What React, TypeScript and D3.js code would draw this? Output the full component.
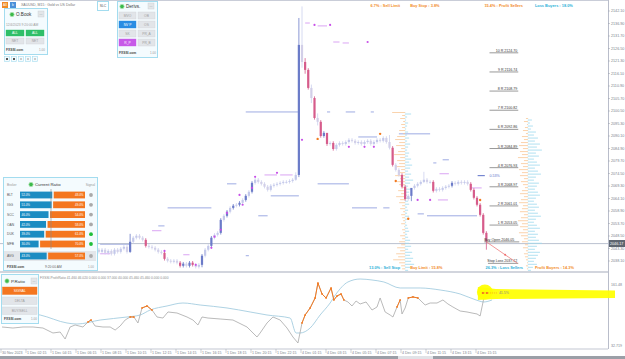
import React from "react";
import * as d3 from "d3";

const W = 625;
const H = 359;
const AXIS_X = 608;
const FONT = "'Liberation Sans', Arial, sans-serif";

// ---- price scale / axes
const priceTicks = [2142.1, 2136.9, 2131.7, 2126.5, 2121.3, 2116.1, 2110.9, 2105.7, 2100.5, 2095.3, 2090.1, 2084.9, 2079.7, 2074.5, 2069.3, 2064.1, 2058.9, 2053.7, 2048.5, 2043.3, 2038.1];
const timeLabels = ["30 Nov 2023", "1 Dec 02:15", "1 Dec 04:15", "1 Dec 06:15", "1 Dec 08:15", "1 Dec 10:15", "1 Dec 12:15", "1 Dec 14:15", "1 Dec 16:15", "1 Dec 18:15", "1 Dec 20:15", "1 Dec 22:15", "4 Dec 01:15", "4 Dec 03:15", "4 Dec 05:15", "4 Dec 07:15", "4 Dec 09:15", "4 Dec 11:15", "4 Dec 13:15", "4 Dec 15:15"];
const CURRENT_PRICE = 2046.17;

// ---- candles (M15), first visible bar index 30
const FIRST_BAR = 30;
const FIRST_OPEN = 2043.0;
const closes = [
  2042.8, 2041.9, 2042.8, 2041.5, 2042.3, 2041.1, 2042.8, 2041.9, 2043.2, 2044.0,
  2041.9, 2046.1, 2047.8, 2048.6, 2047.8, 2046.9, 2044.4, 2044.0, 2043.6, 2042.8,
  2041.9, 2041.5, 2039.0, 2038.2, 2037.8, 2038.2, 2037.4, 2036.1, 2037.0, 2036.1,
  2037.4, 2036.5, 2035.7, 2036.5, 2040.3, 2042.8, 2044.4, 2047.8, 2049.0, 2049.8,
  2055.2, 2056.9, 2058.6, 2060.2, 2061.1, 2061.5, 2062.3, 2063.5, 2065.2, 2066.9,
  2070.6, 2071.9, 2071.0, 2070.2, 2069.0, 2067.7, 2069.4, 2069.8, 2070.2, 2070.6,
  2071.0, 2071.0, 2071.4, 2071.9, 2073.9, 2128.0, 2120.9, 2117.6, 2110.1, 2105.9,
  2097.6, 2096.0, 2090.1, 2091.4, 2086.8, 2087.2, 2084.7, 2086.4, 2087.2, 2086.8,
  2087.6, 2088.5, 2088.1, 2087.2, 2087.6, 2086.8, 2087.6, 2088.1, 2086.8, 2087.6,
  2088.5, 2088.1, 2089.3, 2087.6, 2085.2, 2078.1, 2076.0, 2073.9, 2069.0, 2063.9,
  2065.2, 2068.5, 2069.4, 2070.2, 2071.0, 2071.9, 2071.0, 2071.0, 2067.3, 2068.1,
  2067.7, 2068.5, 2069.0, 2069.4, 2070.6, 2070.2, 2071.0, 2070.6, 2071.0, 2070.2,
  2067.7, 2064.4, 2061.5, 2057.3, 2049.8, 2046.1,
];
const strongBars = [41, 46, 52, 57, 58, 60, 61, 64, 67, 70, 72, 74, 76, 78, 80, 95, 97, 98, 100, 102, 103, 104, 106, 125, 128, 129, 131, 138, 144, 150, 151, 152, 153, 154, 155];
// [bar, high, low]
const wicks: [number, number, number][] = [
  [41, 2049.4, 2041.5], [64, 2041.0, 2035.5], [94, 2075.0, 2071.5], [95, 2139.2, 2073.0],
  [96, 2144.0, 2118.5], [97, 2122.5, 2116.0], [99, 2111.5, 2103.8], [101, 2099.5, 2094.5],
  [104, 2091.0, 2086.0], [124, 2090.5, 2084.5], [131, 2066.0, 2063.0], [135, 2075.2, 2070.5],
  [155, 2050.5, 2042.8],
];

// ---- order markers: [bar, price]
const purpleDots: [number, number][] = [[96, 2088.5], [100, 2136.3], [105, 2136.3], [117, 2129.2], [81, 2073.1], [80, 2068.5], [77, 2061.5], [76, 2065.6], [72, 2058.1], [70, 2051.1], [68, 2048.2], [67, 2043.6], [52, 2042.3], [62, 2036.5], [133, 2063.5], [137, 2063.5], [111, 2085.6], [116, 2085.6], [119, 2085.6], [88, 2074.8]];
const orangeDots: [number, number][] = [[101, 2088.9], [121, 2091.0], [126, 2071.4], [130, 2055.7], [153, 2063.5]];
// [barFrom, barTo, price]
const purpleLines: [number, number, number][] = [[97, 98.5, 2137.1], [101, 104, 2135.9], [106, 108, 2129.2], [109, 111, 2128.8], [84, 88, 2073.9], [89, 93, 2073.9], [48, 51, 2050.7], [58, 60, 2040.7], [139.5, 142.7, 2063.5], [140, 143, 2074.4], [150, 153.5, 2068.5], [31.4, 34.6, 2041.1]];
const blueLines: [number, number, number][] = [[78, 94.7, 2100.1], [53, 67, 2060.2], [86, 95, 2065.2], [72, 75, 2070.2], [101, 111, 2070.2], [112, 120, 2060.2], [122, 124, 2060.2], [82, 85, 2056.9], [133, 135, 2057.7], [136, 152, 2056.9], [110, 113, 2100.1], [118, 119, 2100.1], [104, 105, 2100.1], [114, 120, 2089.7], [127, 137, 2091.0], [138, 139, 2078.9], [141, 143, 2080.2], [78, 79, 2040.3], [50, 52, 2052.7], [31.4, 41, 2045.1]];

// ---- R levels
const rLevels = [2124.7, 2116.74, 2108.79, 2100.82, 2092.86, 2084.89, 2076.93, 2068.97, 2061.01, 2053.05];
const rNames = ["10 R", "9 R", "8 R", "7 R", "6 R", "5 R", "4 R", "3 R", "2 R", "1 R"];
const OPEN_PRICE = 2046.05;
const STOP_PRICE = 2037.12;

// ---- volume profiles (top -> bottom, step 1.25)
const MID_PROFILE_BAR = 129;
const MID_TOP = 2100.0;
const midSellers = [13, 3, 5, 2, 4, 3, 6, 2, 8, 10, 6, 9, 4, 7, 11, 5, 8, 6, 9, 4, 7, 10, 5, 8, 6, 3, 7, 4, 9, 5, 6, 3, 5, 2, 4, 3, 2, 4, 1, 3, 2, 5, 3, 6, 4, 8, 5, 9, 7, 12, 6, 4, 3];
const midBuyers = [6, 2, 1, 3, 2, 1, 3, 2, 4, 2, 5, 3, 2, 4, 3, 6, 4, 7, 5, 3, 6, 4, 8, 5, 3, 6, 4, 2, 5, 3, 4, 2, 3, 2, 4, 3, 1, 2, 3, 4, 2, 3, 5, 4, 6, 3, 7, 5, 8, 6, 9, 5, 3];
const RIGHT_PROFILE_BAR = 168.3;
const RIGHT_TOP = 2097.5;
const rightSellers = [2, 4, 1, 3, 5, 2, 6, 4, 7, 9, 5, 8, 6, 10, 4, 7, 5, 9, 6, 8, 4, 7, 5, 3, 6, 8, 4, 7, 9, 5, 6, 8, 4, 7, 10, 6, 8, 5, 9, 7, 4, 6, 3, 5, 2, 4, 3, 2, 1, 2, 1];
const rightBuyers = [4, 2, 5, 3, 8, 6, 10, 7, 12, 9, 14, 8, 11, 6, 9, 12, 7, 10, 13, 8, 6, 11, 9, 7, 10, 12, 8, 6, 9, 11, 7, 10, 13, 8, 6, 9, 12, 7, 10, 8, 11, 14, 9, 7, 12, 10, 8, 6, 9, 5, 3];

// ---- order book labels
const topLeftLabels = ["6.7% : Sell Limit", "15.4% : Profit Sellers"];
const topRightLabels = ["Buy Stop : 3.8%", "Loss Buyers : 18.0%"];
const bottomLeftLabels = ["13.0% : Sell Stop", "26.3% : Loss Sellers"];
const bottomRightLabels = ["Buy Limit : 15.8%", "Profit Buyers : 14.3%"];

// ---- current ratio panel
const brokers = ["BLT", "IGG", "SCC", "OAN", "DUK", "MFB"];
const buyPct = [52, 51, 46, 42, 39, 30];
const signalOn = [false, false, false, false, true, true];
const AVG_BUY = 43;

// ---- profit ratio subwindow
const ratioBars = [0, 3.5, 6.7, 9.9, 13.1, 16.3, 18.6, 20.2, 21.8, 23.4, 25.9, 27.5, 28.5, 29.8, 32.3, 34.6, 36.2, 37.8, 39.4, 41, 42.2, 43.5, 44.8, 46.4, 48, 49.6, 51.5, 53.1, 56, 59.2, 61.1, 62.7, 64, 65.9, 69.8, 73.9, 78.4, 81.6, 82.6, 84.8, 86.7, 89, 91.2, 93.1, 94.7, 96, 97, 98.6, 100.2, 101.1, 102.4, 103.7, 105.3, 106.2, 107.2, 108.5, 109.4, 110.7, 112, 113.3, 114.6, 116.5, 118.4, 120, 121, 122.6, 124.2, 125.1, 126.4, 127.4, 128, 129, 130, 131.5, 133.1, 135.4, 137, 139.2, 141.1, 142.7, 144.3, 146.6, 148.8, 150.4, 152, 153, 154.2];
const ratioVals = [69.8, 67.8, 69.8, 69.8, 67.8, 58.1, 60.0, 46.4, 69.8, 73.7, 69.8, 79.5, 83.4, 71.7, 69.8, 69.8, 63.9, 71.7, 83.4, 89.3, 89.3, 77.6, 106.9, 110.8, 102.9, 89.3, 87.3, 99.1, 97.1, 89.3, 83.4, 73.7, 89.3, 87.3, 85.4, 83.4, 69.8, 50.3, 58.1, 77.6, 89.3, 83.4, 67.8, 50.3, 38.6, 77.6, 93.2, 106.9, 126.4, 155.6, 134.2, 126.4, 145.9, 122.5, 130.3, 134.2, 122.5, 118.6, 110.8, 120.5, 114.7, 118.6, 102.9, 108.8, 126.4, 99.1, 93.2, 89.3, 108.8, 122.5, 95.2, 106.9, 126.4, 128.4, 126.4, 112.7, 116.6, 116.6, 122.5, 114.7, 108.8, 101.0, 99.1, 97.1, 95.2, 91.3, 126.4];
const signalBars = [0, 5.8, 12.2, 20.8, 24, 31.4, 40, 44.2, 47.4, 52.8, 57.9, 63.4, 72, 79.4, 84.8, 92.2, 94.1, 95.4, 98.6, 101.8, 105, 106.9, 110.7, 114.6, 118.4, 122.2, 127.4, 133.8, 140.2, 146.6, 151.7, 154.2, 156.8];
const signalVals = [108.8, 99.1, 93.2, 77.6, 75.6, 83.4, 89.3, 93.2, 102.9, 110.8, 116.6, 112.7, 106.9, 99.1, 93.2, 87.3, 58.1, 58.1, 67.8, 93.2, 116.6, 134.2, 157.6, 163.4, 161.5, 157.6, 145.9, 145.9, 142.0, 134.2, 122.5, 118.6, 122.5];
const hotRanges: [number, number][] = [[27.5, 28.5], [41, 42.2], [44.8, 48], [96, 109.4], [126.4, 127.4], [130, 133.1], [154.2, 154.2]];
const SUB_MAX = 161.48;
const SUB_MIN = 32.719;
const subLabels = ["161.48", "32.719"];
const LAST_RATIO_LABEL = "41.5%";

// ---- scales
const xBar = d3.scaleLinear().domain([0, 160]).range([2, 502]);
const yPrice = d3.scaleLinear().domain([2038.1, 2142.1]).range([261, 11]);
const ySub = d3.scaleLinear().domain([SUB_MIN, SUB_MAX]).range([346, 280]);
const xVol = d3.scaleLinear().domain([0, 14]).range([0, 14]);
const xRatio = d3.scaleLinear().domain([0, 100]).range([20, 82]);

const T = (p: any) => <text fontFamily={FONT} {...p} />;

const Panel = ({ x, y, w, h }: any) => (
  <rect x={x + 0.5} y={y + 0.5} width={w} height={h} fill="#f4fbfe" stroke="#a3dcef" strokeWidth={1} />
);
const Dot = ({ x, y }: any) => <circle cx={x} cy={y} r={2.2} fill="#3cb94a" stroke="#b6e6bb" strokeWidth={0.7} />;
const More = ({ x, y }: any) => (
  <g>
    <rect x={x} y={y} width={6} height={6} fill="#e3e6e9" stroke="#c8cbd0" strokeWidth={0.4} />
    <T x={x + 3} y={y + 3.6} fontSize={3.4} textAnchor="middle" fill="#666">...</T>
  </g>
);
const Btn = ({ x, y, w, h, label, fill, color }: any) => (
  <g>
    <rect x={x} y={y} width={w} height={h} fill={fill} stroke={fill === "#e2e5e9" ? "#d0d3d8" : fill} strokeWidth={0.4} />
    <T x={x + w / 2} y={y + h / 2 + 1.2} fontSize={3.3} textAnchor="middle" fill={color}>{label}</T>
  </g>
);

export default function App() {
  const wickMap = new Map(wicks.map((w) => [w[0], [w[1], w[2]]]));
  const candles = closes.map((c, k) => {
    const bar = FIRST_BAR + k;
    const o = k === 0 ? FIRST_OPEN : closes[k - 1];
    const wk = wickMap.get(bar);
    return {
      bar, o, c,
      hi: wk ? wk[0] : Math.max(o, c) + 0.7,
      lo: wk ? wk[1] : Math.min(o, c) - 0.7,
      strong: strongBars.includes(bar),
    };
  });

  const ratioPts = ratioBars.map((b, i) => [b, ratioVals[i]] as [number, number]);
  const signalPts = signalBars.map((b, i) => [b, signalVals[i]] as [number, number]);
  const subLine = d3.line<[number, number]>().x((d) => xBar(d[0])).y((d) => ySub(d[1]));
  const smoothLine = d3.line<[number, number]>().x((d) => xBar(d[0])).y((d) => ySub(d[1])).curve(d3.curveMonotoneX);

  const midX = xBar(MID_PROFILE_BAR);
  const rightX = xBar(RIGHT_PROFILE_BAR);
  const lvlL = xBar(156);
  const lvlR = xBar(165.2);

  const last = ratioPts[ratioPts.length - 1];
  const hx = xBar(last[0]) - 6;
  const hy = ySub(last[1]) - 4; // centre of the highlighter stroke

  const ratioRowY = (i: number) => 195 + 9.8 * i;

  return (
    <svg width={W} height={H} style={{ position: "fixed", left: 0, top: 0, background: "#fff" }}>
      <rect x={0} y={0} width={W} height={H} fill="#fff" />

      {/* frames */}
      <line x1={0} x2={AXIS_X} y1={0.5} y2={0.5} stroke="#c9cdd8" />
      <line x1={AXIS_X + 0.5} x2={AXIS_X + 0.5} y1={0} y2={349} stroke="#b9bdca" />
      <line x1={0} x2={AXIS_X} y1={272} y2={272} stroke="#c3c7d2" strokeWidth={1.6} />
      <line x1={0} x2={AXIS_X} y1={349} y2={349} stroke="#c3c7d2" />

      {/* level lines */}
      {blueLines.map((l, i) => (
        <line key={"bl" + i} x1={xBar(l[0])} x2={xBar(l[1])} y1={yPrice(l[2])} y2={yPrice(l[2])} stroke="#93a2e0" strokeWidth={0.9} />
      ))}
      {purpleLines.map((l, i) => (
        <line key={"pl" + i} x1={xBar(l[0])} x2={xBar(l[1])} y1={yPrice(l[2])} y2={yPrice(l[2])} stroke="#d08ef0" strokeWidth={0.8} />
      ))}
      <line x1={0} x2={AXIS_X} y1={yPrice(CURRENT_PRICE) + 2} y2={yPrice(CURRENT_PRICE) + 2} stroke="#b3bac9" strokeWidth={0.9} />

      {/* volume profiles */}
      <line x1={midX} x2={midX} y1={yPrice(MID_TOP)} y2={270} stroke="#c6e7f3" strokeWidth={0.5} strokeDasharray="1,1" />
      {midSellers.map((v, k) => (
        <rect key={"ms" + k} x={midX - xVol(v)} y={yPrice(MID_TOP - 1.25 * k)} width={xVol(v)} height={0.8} fill="#f9c898" />
      ))}
      {midBuyers.map((v, k) => (
        <rect key={"mb" + k} x={midX} y={yPrice(MID_TOP - 1.25 * k) + 1.4} width={xVol(v)} height={0.8} fill="#9dd9ee" />
      ))}
      <line x1={rightX} x2={rightX} y1={yPrice(RIGHT_TOP)} y2={270} stroke="#c6e7f3" strokeWidth={0.5} strokeDasharray="1,1" />
      {rightSellers.map((v, k) => (
        <rect key={"rs" + k} x={rightX - xVol(v)} y={yPrice(RIGHT_TOP - 1.25 * k)} width={xVol(v)} height={0.8} fill="#f9c898" />
      ))}
      {rightBuyers.map((v, k) => (
        <rect key={"rb" + k} x={rightX} y={yPrice(RIGHT_TOP - 1.25 * k) + 1.4} width={xVol(v)} height={0.8} fill="#9dd9ee" />
      ))}

      {/* candles */}
      {candles.map((d) => {
        const bull = d.c >= d.o;
        const col = d.strong ? (bull ? "#6b7bc8" : "#d65c8b") : bull ? "#c3c8ea" : "#d2cfe8";
        const top = yPrice(Math.max(d.o, d.c));
        const bot = yPrice(Math.min(d.o, d.c));
        return (
          <g key={"c" + d.bar}>
            <line x1={xBar(d.bar)} x2={xBar(d.bar)} y1={yPrice(d.hi)} y2={yPrice(d.lo)} stroke={d.strong ? col : "#ccd0ee"} strokeWidth={0.8} />
            <rect x={xBar(d.bar) - 1.1} y={top} width={2.2} height={Math.max(0.8, bot - top)} fill={col} />
          </g>
        );
      })}
      {purpleDots.map((p, i) => (
        <circle key={"pd" + i} cx={xBar(p[0])} cy={yPrice(p[1])} r={1.1} fill="#c84fe8" />
      ))}
      {orangeDots.map((p, i) => (
        <circle key={"od" + i} cx={xBar(p[0])} cy={yPrice(p[1])} r={1.2} fill="#f27a20" />
      ))}

      {/* R levels */}
      {rLevels.map((p, i) => (
        <g key={"r" + i}>
          <line x1={lvlL} x2={lvlR} y1={yPrice(p)} y2={yPrice(p)} stroke="#6d6d6d" strokeWidth={0.7} />
          <T x={lvlR - 1} y={yPrice(p) - 1} fontSize={3.6} textAnchor="end" fill="#333">{`${rNames[i]} ${p.toFixed(2)}`}</T>
        </g>
      ))}
      <line x1={xBar(154.3)} x2={lvlR + 1} y1={yPrice(OPEN_PRICE)} y2={yPrice(OPEN_PRICE)} stroke="#6d6d6d" strokeWidth={0.7} />
      <T x={xBar(154.3)} y={yPrice(OPEN_PRICE) - 1} fontSize={3.6} fill="#333">{`Buy Open ${OPEN_PRICE.toFixed(2)}`}</T>
      <line x1={xBar(155.5)} x2={lvlR} y1={yPrice(STOP_PRICE)} y2={yPrice(STOP_PRICE)} stroke="#6d6d6d" strokeWidth={0.7} />
      <T x={lvlR - 1} y={yPrice(STOP_PRICE) - 1} fontSize={3.6} textAnchor="end" fill="#333">{`Stop Loss ${STOP_PRICE.toFixed(2)}`}</T>
      <line x1={xBar(155)} x2={xBar(165)} y1={yPrice(OPEN_PRICE)} y2={yPrice(STOP_PRICE)} stroke="#ef7f7f" strokeWidth={0.8} />
      <circle cx={xBar(161)} cy={yPrice(OPEN_PRICE + (STOP_PRICE - OPEN_PRICE) * 0.6)} r={1} fill="#ef6f6f" />
      <line x1={xBar(152.2)} x2={xBar(154.5)} y1={yPrice(2073.6)} y2={yPrice(2073.6)} stroke="#5d70c8" strokeWidth={1} />
      <T x={xBar(156)} y={yPrice(2073.6) + 1.2} fontSize={3.6} fill="#5d70c8">0.53%</T>

      {/* order book percentages */}
      {[midX, rightX].map((cx, i) => (
        <g key={"ob" + i} fontWeight="bold" fontSize={3.9}>
          <T x={cx - 5} y={6.5} textAnchor="end" fill="#f28c28">{topLeftLabels[i]}</T>
          <T x={cx + (i ? 7 : 5)} y={6.5} fill={i ? "#2bb1d8" : "#f28c28"}>{topRightLabels[i]}</T>
          <T x={cx - 5} y={269} textAnchor="end" fill="#2bb1d8">{bottomLeftLabels[i]}</T>
          <T x={cx + (i ? 7 : 5)} y={269} fill="#f28c28">{bottomRightLabels[i]}</T>
        </g>
      ))}

      {/* price axis */}
      {priceTicks.map((p) => (
        <g key={"pt" + p}>
          <line x1={AXIS_X} x2={AXIS_X + 2} y1={yPrice(p)} y2={yPrice(p)} stroke="#9aa0ad" strokeWidth={0.5} />
          <T x={AXIS_X + 3} y={yPrice(p) + 1.3} fontSize={3.7} fill="#7a7f8c">{p.toFixed(2)}</T>
        </g>
      ))}
      <rect x={AXIS_X + 1} y={yPrice(CURRENT_PRICE) - 1.6} width={16} height={7} fill="#5f6670" />
      <T x={AXIS_X + 2} y={yPrice(CURRENT_PRICE) + 3.3} fontSize={3.7} fill="#fff">{CURRENT_PRICE.toFixed(2)}</T>

      {/* time axis */}
      {timeLabels.map((s, i) => (
        <g key={"tl" + i}>
          <line x1={xBar(8 * i) - 1} x2={xBar(8 * i) - 1} y1={349} y2={353} stroke="#9aa0ad" strokeWidth={0.5} />
          <T x={xBar(8 * i)} y={354} fontSize={3.6} fill="#7a7f8c">{s}</T>
        </g>
      ))}

      {/* profit ratio subwindow */}
      <T x={40} y={279} fontSize={3.3} fill="#8a8a8a">FXSSI.ProfitRatio 41.460 46.020 0.000 0.000 37.000 40.000 45.460 45.460 0.000 0.000</T>
      <path d={smoothLine(signalPts) || ""} fill="none" stroke="#a5cde0" strokeWidth={0.9} />
      <path d={subLine(ratioPts) || ""} fill="none" stroke="#a8a8a8" strokeWidth={0.8} />
      {hotRanges.map((r, i) => {
        const pts = ratioPts.filter((p) => p[0] >= r[0] && p[0] <= r[1]);
        return (
          <g key={"hr" + i}>
            <path d={subLine(pts) || ""} fill="none" stroke="#f47a20" strokeWidth={1} />
            {pts.map((p, j) => (
              <rect key={j} x={xBar(p[0]) - 0.8} y={ySub(p[1]) - 0.8} width={1.6} height={1.6} fill="#f47a20" />
            ))}
          </g>
        );
      })}
      <path
        d={`M${hx},${hy - 7} L${hx + 18},${hy - 5} L${W - 10},${hy - 3.5} L${W - 10},${hy + 4} L${hx + 18},${hy + 5} L${hx},${hy + 6} Z`}
        fill="#ffff00"
        opacity={0.93}
      />
      <ellipse cx={hx + 7} cy={hy - 2} rx={8} ry={7.5} fill="#ffff00" opacity={0.93} />
      <line x1={hx + 6} x2={hx + 20} y1={hy - 1} y2={hy - 1} stroke="#f47a20" strokeWidth={0.6} strokeDasharray="1,1" />
      <rect x={hx + 4} y={hy - 2} width={2} height={2} fill="#f47a20" />
      <rect x={hx + 8} y={hy - 2} width={2} height={2} fill="#f47a20" />
      <T x={hx + 21} y={hy + 0.5} fontSize={3.6} fill="#8a8a8a">{LAST_RATIO_LABEL}</T>
      {[SUB_MAX, SUB_MIN].map((v, i) => (
        <T key={"sl" + i} x={AXIS_X + 3} y={ySub(v) + (i ? 1 : 6)} fontSize={3.6} fill="#7a7f8c">{subLabels[i]}</T>
      ))}

      {/* top-left header */}
      <rect x={2} y={2} width={6} height={6} fill="#f08a24" />
      <rect x={10} y={2} width={6} height={6} fill="#4a90d9" />
      <T x={5} y={6.3} fontSize={3.2} textAnchor="middle" fill="#fff">AII</T>
      <T x={13} y={6.3} fontSize={3.2} textAnchor="middle" fill="#fff">b</T>
      <T x={21} y={6.3} fontSize={3.5} fill="#777">XAUUSD, M15 : Gold vs US Dollar</T>
      <rect x={97.5} y={1.5} width={11} height={9} fill="#fff" stroke="#a3dcef" />
      <T x={103} y={7.3} fontSize={3.4} textAnchor="middle" fill="#555">SLC</T>

      {/* O.Book panel */}
      <Panel x={4} y={8} w={43} h={46} />
      <Dot x={12} y={14.5} />
      <T x={16} y={16.3} fontSize={4.6} fill="#333">O.Book</T>
      <More x={38} y={11} />
      <T x={6} y={25.5} fontSize={3.3} fill="#9a9a9a">12/4/2023 9:20:00 AM</T>
      <Btn x={6} y={30} w={18} h={6} label="ALL" fill="#2fbf68" color="#fff" />
      <Btn x={26} y={30} w={18} h={6} label="ALL" fill="#2fbf68" color="#fff" />
      <Btn x={6} y={38} w={18} h={6} label="NET" fill="#e2e5e9" color="#a0a0a0" />
      <Btn x={26} y={38} w={18} h={6} label="NET" fill="#e2e5e9" color="#a0a0a0" />
      <T x={6} y={51} fontSize={3.3} fontWeight="bold" fill="#444">FXSSI.com</T>
      <T x={39} y={51} fontSize={3} fill="#999">1.00</T>
      {[4, 11, 18, 25, 32].map((x, i) => (
        <g key={"sb" + i}>
          <rect x={x + 0.5} y={56.5} width={5} height={5} fill="#f4fbfe" stroke="#a3dcef" strokeWidth={0.6} />
          <rect x={x + 2} y={58} width={2} height={2} fill={i < 2 ? "#555" : "#ccc"} />
        </g>
      ))}

      {/* Derivs panel */}
      <Panel x={117} y={1} w={40} h={56} />
      <Dot x={122} y={6.5} />
      <T x={126} y={8.3} fontSize={4.6} fill="#333">Derivs.</T>
      <More x={148} y={3} />
      {[["MVO", "OB"], ["NV P", "OS"], ["SK", "PR_A"], ["R_P", "PR_B"]].map((row, r) => (
        <g key={"dv" + r}>
          <Btn x={119} y={12 + 9 * r} w={17} h={7} label={row[0]} fill={r === 1 ? "#2a8de3" : r === 3 ? "#c75ae8" : "#e2e5e9"} color={r === 1 || r === 3 ? "#fff" : "#a0a0a0"} />
          <Btn x={138} y={12 + 9 * r} w={17} h={7} label={row[1]} fill="#e2e5e9" color="#a0a0a0" />
        </g>
      ))}
      <T x={119} y={54} fontSize={3.3} fontWeight="bold" fill="#444">FXSSI.com</T>
      <T x={150} y={54} fontSize={3} fill="#999">1.00</T>

      {/* Current Ratio panel */}
      <Panel x={3} y={177} w={94} h={93} />
      <T x={7} y={186} fontSize={3.3} fill="#999">Broker</T>
      <Dot x={31} y={184.5} />
      <T x={35} y={186.2} fontSize={4.3} fill="#333">Current Ratio</T>
      <T x={95} y={186} fontSize={3.3} textAnchor="end" fill="#999">Signal</T>
      <rect x={4} y={251} width={92} height={10} fill="#e3e6ea" />
      {[...brokers, "AVG"].map((b, i) => {
        const pct = i < brokers.length ? buyPct[i] : AVG_BUY;
        const cy = i < brokers.length ? ratioRowY(i) : 256;
        const on = i < brokers.length ? signalOn[i] : false;
        return (
          <g key={"br" + b}>
            <T x={7} y={cy + 1.2} fontSize={3.3} fill="#555">{b}</T>
            <rect x={xRatio(0)} y={cy - 3.4} width={xRatio(pct) - xRatio(0)} height={6.8} fill="#1b8cc2" />
            <rect x={xRatio(pct) + 1.5} y={cy - 3.4} width={85 - xRatio(pct) - 1.5} height={6.8} fill="#f4761f" />
            <T x={xRatio(0) + 1.5} y={cy + 1.1} fontSize={3} fill="#fff">{pct.toFixed(1) + "%"}</T>
            <T x={83.5} y={cy + 1.1} fontSize={3} textAnchor="end" fill="#fff">{(100 - pct).toFixed(1) + "%"}</T>
            <circle cx={91} cy={cy} r={1.9} fill={on ? "#20bf3a" : "#a9a9a9"} />
          </g>
        );
      })}
      <line x1={xRatio(50)} x2={xRatio(50)} y1={189} y2={249} stroke="#8a8a8a" strokeWidth={0.6} />
      <T x={7} y={268} fontSize={3.3} fontWeight="bold" fill="#444">FXSSI.com</T>
      <T x={45} y={268} fontSize={3.3} fill="#666">9:20:00 AM</T>
      <T x={88} y={268} fontSize={3} fill="#999">1.00</T>

      {/* P.Ratio panel */}
      <Panel x={1} y={274} w={37} h={49} />
      <Dot x={7} y={281} />
      <T x={11} y={282.8} fontSize={4.4} fill="#333">P.Ratio</T>
      <More x={31} y={278} />
      <Btn x={2.5} y={287} w={34.5} h={7.5} label="SIGNAL" fill="#f4761f" color="#fff" />
      <Btn x={2.5} y={297} w={34.5} h={7.5} label="DELTA" fill="#e2e5e9" color="#a0a0a0" />
      <Btn x={2.5} y={307} w={34.5} h={7.5} label="BUY/SELL" fill="#e2e5e9" color="#a0a0a0" />
      <T x={4} y={320} fontSize={3.3} fontWeight="bold" fill="#444">FXSSI.com</T>
      <T x={31} y={320} fontSize={3} fill="#999">1.00</T>

      {/* scrollbar */}
      <rect x={0} y={356} width={W} height={3} fill="#9b9fa7" />
      <rect x={398} y={356} width={35} height={3} fill="#e1e3e7" />
    </svg>
  );
}
